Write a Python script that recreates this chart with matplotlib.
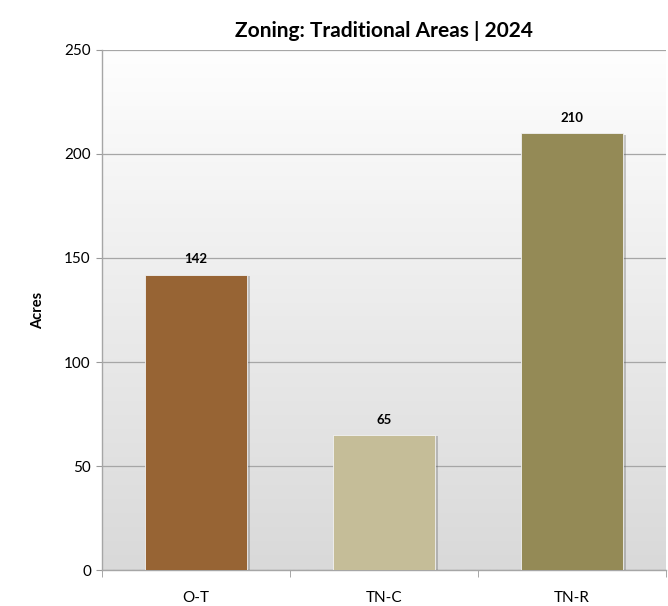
import matplotlib
matplotlib.use("Agg")
import matplotlib.pyplot as plt
import matplotlib.patheffects as pe
import numpy as np
from matplotlib.colors import LinearSegmentedColormap

categories = ["O-T", "TN-C", "TN-R"]
values = [142, 65, 210]
colors = ["#976434", "#C5BD98", "#948A56"]
yticks = [0, 50, 100, 150, 200, 250]

plt.rcParams['font.family'] = ['Lato', 'DejaVu Sans']

fig = plt.figure(figsize=(6.68, 6.06), dpi=100)
ax = fig.add_axes([0.1527, 0.0594, 0.8443, 0.8581])

# gradient background
grad = np.linspace(0, 1, 256).reshape(-1, 1)
cmap = LinearSegmentedColormap.from_list("bg", ["#d9d9d9", "#fefefe"])
ax.imshow(grad, aspect='auto', cmap=cmap, origin='lower',
          extent=[0, 1, 0, 1], transform=ax.transAxes, zorder=0)

x = np.arange(len(categories))
bars = ax.bar(x, values, width=0.54, color=colors, edgecolor="#f2f2f2",
              linewidth=0.6, zorder=3)
for b in bars:
    b.set_path_effects([pe.SimplePatchShadow(offset=(2.5, -1), alpha=0.3, shadow_rgbFace="#555555"),
                        pe.Normal()])

for xi, v in zip(x, values):
    ax.annotate(str(v), (xi, v), xytext=(0, 11), textcoords="offset points",
                ha="center", va="center", fontsize=9.5, fontweight="bold", color="#000000")

ax.set_xlim(-0.5, len(categories) - 0.5)
ax.set_ylim(0, 250)
ax.set_yticks(yticks)
ax.set_yticklabels([str(t) for t in yticks], fontsize=11)
ax.set_xticks(x)
ax.set_xticklabels(categories, fontsize=11)
ax.set_xticks(np.arange(len(categories) + 1) - 0.5, minor=True)
ax.tick_params(axis='x', which='major', length=0, pad=15)
ax.tick_params(axis='x', which='minor', length=5, color="#999999", direction='out')
ax.tick_params(axis='y', length=4, color="#999999", direction='out', pad=4)

ax.yaxis.grid(True, color="#a6a6a6", linewidth=0.9, zorder=1)
ax.set_axisbelow(True)
for s in ["top", "right"]:
    ax.spines[s].set_visible(False)
for s in ["left", "bottom"]:
    ax.spines[s].set_color("#a6a6a6")
    ax.spines[s].set_linewidth(1.0)

ax.set_ylabel("Acres", fontsize=10.5, fontweight="bold", labelpad=14)
ax.set_title("Zoning: Traditional Areas | 2024", fontsize=15, fontweight="bold", pad=9)

fig.savefig("out.png", dpi=100)
